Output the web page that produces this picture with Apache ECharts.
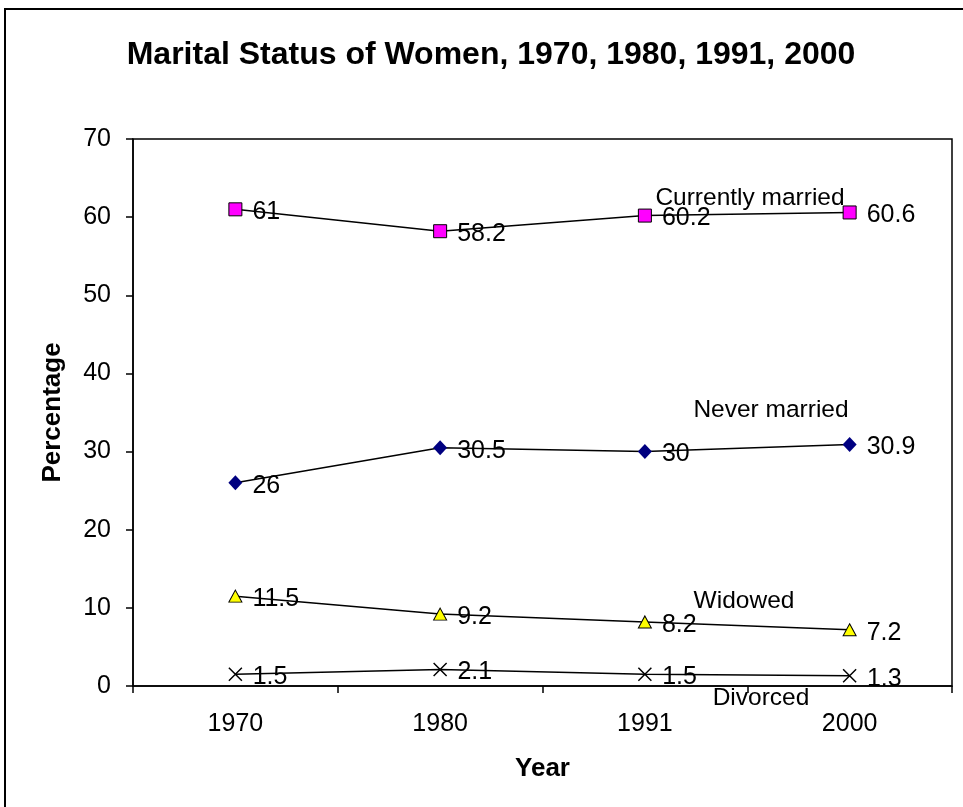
<!DOCTYPE html>
<html>
<head>
<meta charset="utf-8">
<script src="https://cdn.jsdelivr.net/npm/echarts@6/dist/echarts.min.js"></script>
<style>
html,body{margin:0;padding:0;background:#fff;}
#chart{width:963px;height:807px;}
</style>
</head>
<body>
<div id="chart"></div>
<script>
const years = ['1970', '1980', '1991', '2000'];
const currentlyMarried = [61, 58.2, 60.2, 60.6];
const neverMarried = [26, 30.5, 30, 30.9];
const widowed = [11.5, 9.2, 8.2, 7.2];
const divorced = [1.5, 2.1, 1.5, 1.3];
const seriesNames = ['Currently married', 'Never married', 'Widowed', 'Divorced'];

const FONT = '"Liberation Sans", Arial, sans-serif';
const chart = echarts.init(document.getElementById('chart'), null, {renderer: 'canvas'});

const labelCfg = {
  show: true, position: 'right', distance: 10, offset: [0, 3],
  color: '#000', fontSize: 25, fontFamily: FONT
};
function mkSeries(name, data, symbol, size, itemStyle) {
  return {
    name: name, type: 'line', data: data,
    symbol: symbol, symbolSize: size,
    lineStyle: {color: '#000', width: 1.5},
    itemStyle: itemStyle,
    label: labelCfg,
    emphasis: {disabled: true},
    animation: false
  };
}

const option = {
  animation: false,
  title: {
    text: 'Marital Status of Women, 1970, 1980, 1991, 2000',
    left: 486, top: 34, textAlign: 'center',
    textStyle: {fontSize: 32, fontWeight: 'bold', color: '#000', fontFamily: FONT}
  },
  grid: {
    left: 133, top: 139, right: 11, bottom: 121,
    show: true, borderColor: '#000', borderWidth: 1.5, backgroundColor: '#fff'
  },
  xAxis: {
    type: 'category', data: years, boundaryGap: true,
    name: 'Year', nameLocation: 'middle', nameGap: 70,
    nameTextStyle: {fontSize: 26, fontWeight: 'bold', color: '#000', fontFamily: FONT},
    axisLine: {lineStyle: {color: '#000', width: 1.5}},
    axisTick: {show: true, length: 7, lineStyle: {color: '#000', width: 1.5}},
    axisLabel: {fontSize: 25, color: '#000', margin: 26, fontFamily: FONT},
    splitLine: {show: false}
  },
  yAxis: {
    type: 'value', min: 0, max: 70, interval: 10,
    name: 'Percentage', nameLocation: 'middle', nameGap: 67, nameRotate: 90,
    nameTextStyle: {fontSize: 26, fontWeight: 'bold', color: '#000', fontFamily: FONT},
    axisLine: {show: true, lineStyle: {color: '#000', width: 1.5}},
    axisTick: {show: true, length: 7, lineStyle: {color: '#000', width: 1.5}},
    axisLabel: {fontSize: 25, color: '#000', margin: 22, fontFamily: FONT},
    splitLine: {show: false}
  },
  series: [
    mkSeries(seriesNames[0], currentlyMarried, 'rect', 13,
      {color: '#FF00FF', borderColor: '#000', borderWidth: 1}),
    mkSeries(seriesNames[1], neverMarried, 'diamond', [14, 15],
      {color: '#000080'}),
    mkSeries(seriesNames[2], widowed, 'triangle', [13, 12],
      {color: '#FFFF00', borderColor: '#000', borderWidth: 1}),
    mkSeries(seriesNames[3], divorced, 'path://M0,0L10,10M10,0L0,10', 13,
      {color: 'rgba(0,0,0,0)', borderColor: '#000', borderWidth: 1.5})
  ],
  graphic: [
    {type: 'rect', silent: true, z: -1,
     shape: {x: 5, y: 9, width: 1100, height: 1000},
     style: {fill: 'none', stroke: '#000', lineWidth: 2}},
    {type: 'text', x: 750, y: 198, z: 100,
     style: {text: seriesNames[0], font: '24.5px ' + FONT, fill: '#000', textAlign: 'center', textVerticalAlign: 'middle'}},
    {type: 'text', x: 771, y: 410, z: 100,
     style: {text: seriesNames[1], font: '24.5px ' + FONT, fill: '#000', textAlign: 'center', textVerticalAlign: 'middle'}},
    {type: 'text', x: 744, y: 601, z: 100,
     style: {text: seriesNames[2], font: '24.5px ' + FONT, fill: '#000', textAlign: 'center', textVerticalAlign: 'middle'}},
    {type: 'text', x: 761, y: 698, z: 100,
     style: {text: seriesNames[3], font: '24.5px ' + FONT, fill: '#000', textAlign: 'center', textVerticalAlign: 'middle'}}
  ]
};
chart.setOption(option);
</script>
</body>
</html>
